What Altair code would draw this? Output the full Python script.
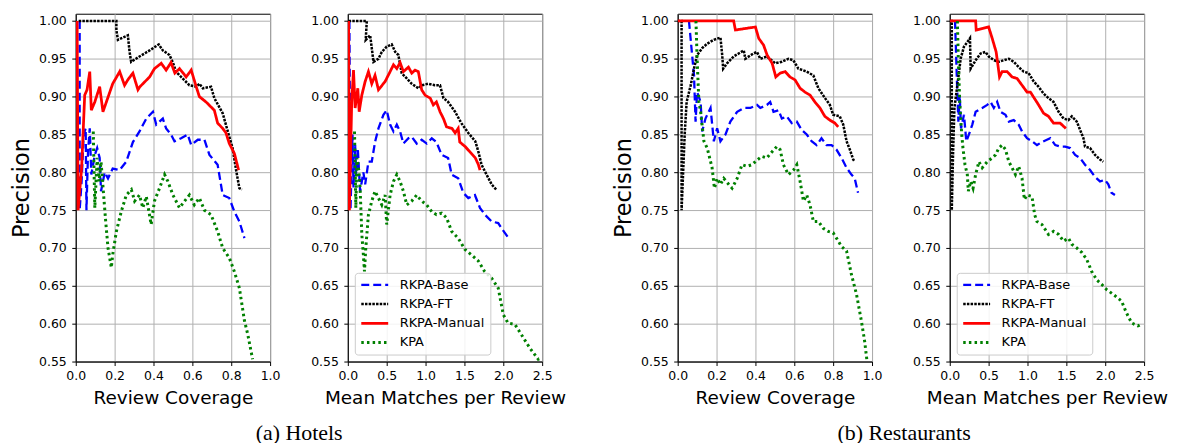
import altair as alt
import pandas as pd

SERIES = ["RKPA-Base", "RKPA-FT", "RKPA-Manual", "KPA"]
COLORS = ["#0000ff", "#000000", "#ff0000", "#008000"]
DASHES = [[8, 4], [2.5, 1.2], [1, 0], [2.5, 3.2]]
WIDTHS = [2.3, 3.0, 1.9, 2.4]
Y_TICKS = [0.55, 0.60, 0.65, 0.70, 0.75, 0.80, 0.85, 0.90, 0.95, 1.00]
COV_TICKS = [0.0, 0.2, 0.4, 0.6, 0.8, 1.0]
MM_TICKS = [0.0, 0.5, 1.0, 1.5, 2.0, 2.5]

# ---------- (a) Hotels, Review Coverage ----------
h_cov_base_x = [0.02, 0.02, 0.03, 0.041, 0.051, 0.055, 0.063, 0.072, 0.08, 0.098, 0.11, 0.123, 0.13, 0.149, 0.166, 0.19, 0.226, 0.26, 0.294, 0.328, 0.363, 0.397, 0.414, 0.448, 0.465, 0.49, 0.508, 0.542, 0.576, 0.594, 0.628, 0.662, 0.688, 0.73, 0.756, 0.79, 0.816, 0.842, 0.868]
h_cov_base_y = [1.0, 0.75, 0.788, 0.85, 0.858, 0.75, 0.827, 0.858, 0.797, 0.823, 0.832, 0.819, 0.775, 0.80, 0.792, 0.805, 0.803, 0.814, 0.84, 0.854, 0.871, 0.88, 0.863, 0.871, 0.858, 0.85, 0.841, 0.845, 0.85, 0.836, 0.843, 0.843, 0.823, 0.81, 0.77, 0.766, 0.748, 0.735, 0.713]
h_cov_ft_x = [0.015, 0.209, 0.209, 0.217, 0.268, 0.277, 0.285, 0.328, 0.38, 0.427, 0.448, 0.482, 0.5, 0.516, 0.542, 0.585, 0.62, 0.636, 0.654, 0.696, 0.713, 0.756, 0.79, 0.807, 0.825, 0.842, 0.855]
h_cov_ft_y = [1.0, 1.0, 0.988, 0.975, 0.981, 0.959, 0.946, 0.953, 0.961, 0.969, 0.961, 0.955, 0.945, 0.933, 0.926, 0.915, 0.913, 0.917, 0.911, 0.913, 0.898, 0.878, 0.847, 0.832, 0.803, 0.779, 0.777]
h_cov_man_x = [0.007, 0.012, 0.03, 0.046, 0.058, 0.072, 0.08, 0.098, 0.123, 0.14, 0.19, 0.226, 0.251, 0.27, 0.294, 0.32, 0.33, 0.38, 0.405, 0.44, 0.465, 0.49, 0.51, 0.534, 0.568, 0.594, 0.62, 0.636, 0.67, 0.713, 0.73, 0.756, 0.773, 0.79, 0.816, 0.838]
h_cov_man_y = [1.0, 0.75, 0.805, 0.902, 0.909, 0.933, 0.882, 0.893, 0.913, 0.88, 0.917, 0.933, 0.915, 0.923, 0.931, 0.909, 0.913, 0.926, 0.937, 0.944, 0.935, 0.945, 0.931, 0.937, 0.926, 0.935, 0.913, 0.90, 0.893, 0.882, 0.865, 0.858, 0.852, 0.838, 0.825, 0.803]
h_cov_kpa_x = [0.09, 0.098, 0.11, 0.12, 0.13, 0.154, 0.166, 0.183, 0.19, 0.209, 0.234, 0.26, 0.286, 0.303, 0.328, 0.345, 0.363, 0.388, 0.405, 0.431, 0.457, 0.474, 0.5, 0.534, 0.56, 0.585, 0.61, 0.636, 0.662, 0.696, 0.73, 0.756, 0.79, 0.816, 0.842, 0.868, 0.885, 0.91]
h_cov_kpa_y = [0.854, 0.753, 0.819, 0.788, 0.814, 0.735, 0.70, 0.674, 0.691, 0.722, 0.748, 0.77, 0.777, 0.762, 0.77, 0.753, 0.768, 0.731, 0.762, 0.779, 0.797, 0.788, 0.77, 0.753, 0.762, 0.77, 0.757, 0.766, 0.75, 0.744, 0.722, 0.70, 0.687, 0.669, 0.647, 0.604, 0.586, 0.553]

# ---------- (a) Hotels, Mean Matches per Review ----------
h_mm_base_x = [0.02, 0.034, 0.06, 0.073, 0.094, 0.107, 0.128, 0.158, 0.2, 0.223, 0.265, 0.308, 0.35, 0.394, 0.458, 0.5, 0.544, 0.587, 0.63, 0.672, 0.715, 0.78, 0.822, 0.886, 0.95, 1.015, 1.08, 1.14, 1.207, 1.29, 1.336, 1.42, 1.485, 1.55, 1.635, 1.70, 1.764, 1.85, 1.935, 1.978, 2.055]
h_mm_base_y = [1.0, 0.75, 0.85, 0.78, 0.836, 0.797, 0.832, 0.775, 0.80, 0.784, 0.814, 0.814, 0.84, 0.858, 0.876, 0.882, 0.863, 0.854, 0.863, 0.854, 0.838, 0.845, 0.847, 0.838, 0.843, 0.838, 0.845, 0.84, 0.823, 0.819, 0.797, 0.792, 0.773, 0.766, 0.77, 0.753, 0.744, 0.735, 0.733, 0.726, 0.715]
h_mm_ft_x = [0.01, 0.244, 0.23, 0.287, 0.308, 0.33, 0.394, 0.437, 0.5, 0.565, 0.61, 0.65, 0.693, 0.758, 0.822, 0.907, 0.95, 1.036, 1.12, 1.186, 1.23, 1.29, 1.38, 1.46, 1.55, 1.64, 1.68, 1.72, 1.785, 1.85, 1.91]
h_mm_ft_y = [1.0, 1.0, 0.975, 0.981, 0.964, 0.946, 0.95, 0.959, 0.966, 0.969, 0.959, 0.955, 0.931, 0.924, 0.917, 0.911, 0.915, 0.917, 0.915, 0.915, 0.898, 0.893, 0.88, 0.865, 0.852, 0.841, 0.827, 0.81, 0.797, 0.784, 0.777]
h_mm_man_x = [0.01, 0.02, 0.05, 0.073, 0.094, 0.128, 0.146, 0.18, 0.223, 0.265, 0.308, 0.35, 0.394, 0.48, 0.544, 0.587, 0.63, 0.672, 0.715, 0.78, 0.822, 0.865, 0.907, 0.95, 0.993, 1.06, 1.1, 1.14, 1.186, 1.23, 1.27, 1.34, 1.38, 1.42, 1.44, 1.51, 1.57, 1.64, 1.68, 1.70]
h_mm_man_y = [1.0, 0.75, 0.893, 0.935, 0.885, 0.911, 0.88, 0.902, 0.92, 0.933, 0.917, 0.928, 0.909, 0.92, 0.933, 0.942, 0.937, 0.945, 0.933, 0.939, 0.931, 0.935, 0.933, 0.909, 0.902, 0.898, 0.889, 0.893, 0.88, 0.871, 0.86, 0.858, 0.852, 0.858, 0.84, 0.834, 0.827, 0.819, 0.81, 0.803]
h_mm_kpa_x = [0.086, 0.103, 0.116, 0.137, 0.158, 0.18, 0.2, 0.214, 0.231, 0.265, 0.308, 0.35, 0.394, 0.437, 0.48, 0.5, 0.544, 0.587, 0.63, 0.672, 0.715, 0.758, 0.822, 0.886, 0.95, 1.015, 1.08, 1.14, 1.207, 1.27, 1.336, 1.42, 1.507, 1.59, 1.678, 1.76, 1.85, 1.935, 2.0, 2.06, 2.15, 2.23, 2.34, 2.45, 2.5]
h_mm_kpa_y = [0.854, 0.753, 0.819, 0.806, 0.779, 0.718, 0.691, 0.669, 0.70, 0.744, 0.762, 0.775, 0.766, 0.757, 0.77, 0.731, 0.77, 0.788, 0.797, 0.788, 0.775, 0.757, 0.762, 0.77, 0.762, 0.757, 0.748, 0.744, 0.746, 0.74, 0.722, 0.713, 0.698, 0.691, 0.683, 0.669, 0.66, 0.647, 0.612, 0.601, 0.599, 0.586, 0.568, 0.553, 0.555]

# ---------- (b) Restaurants, Review Coverage ----------
r_cov_base_x = [0.058, 0.084, 0.092, 0.1, 0.118, 0.126, 0.143, 0.169, 0.186, 0.203, 0.22, 0.246, 0.271, 0.306, 0.34, 0.374, 0.408, 0.425, 0.459, 0.476, 0.493, 0.519, 0.536, 0.561, 0.587, 0.613, 0.638, 0.664, 0.689, 0.715, 0.74, 0.766, 0.792, 0.817, 0.843, 0.869, 0.894, 0.911, 0.928]
r_cov_base_y = [1.0, 0.928, 0.867, 0.906, 0.893, 0.854, 0.871, 0.885, 0.841, 0.858, 0.841, 0.85, 0.867, 0.88, 0.885, 0.885, 0.889, 0.885, 0.889, 0.893, 0.88, 0.882, 0.871, 0.874, 0.865, 0.867, 0.856, 0.85, 0.841, 0.836, 0.845, 0.836, 0.836, 0.83, 0.819, 0.806, 0.797, 0.792, 0.773]
r_cov_ft_x = [0.0, 0.02, 0.02, 0.036, 0.046, 0.067, 0.084, 0.1, 0.126, 0.152, 0.186, 0.22, 0.229, 0.234, 0.254, 0.288, 0.34, 0.348, 0.39, 0.408, 0.425, 0.459, 0.502, 0.536, 0.57, 0.595, 0.621, 0.664, 0.698, 0.724, 0.758, 0.783, 0.8, 0.834, 0.852, 0.869, 0.886, 0.903, 0.911]
r_cov_ft_y = [1.0, 1.0, 0.75, 0.85, 0.893, 0.915, 0.937, 0.955, 0.964, 0.97, 0.975, 0.978, 0.955, 0.937, 0.944, 0.953, 0.961, 0.95, 0.957, 0.959, 0.95, 0.953, 0.944, 0.946, 0.95, 0.948, 0.937, 0.933, 0.928, 0.911, 0.898, 0.889, 0.876, 0.874, 0.863, 0.841, 0.83, 0.817, 0.814]
r_cov_man_x = [0.0, 0.288, 0.297, 0.40, 0.417, 0.442, 0.46, 0.486, 0.505, 0.527, 0.553, 0.578, 0.604, 0.63, 0.655, 0.681, 0.706, 0.732, 0.757, 0.783, 0.809, 0.826]
r_cov_man_y = [1.0, 1.0, 0.988, 0.992, 0.977, 0.968, 0.955, 0.944, 0.926, 0.931, 0.933, 0.926, 0.922, 0.911, 0.906, 0.902, 0.893, 0.885, 0.874, 0.869, 0.865, 0.86]
r_cov_kpa_x = [0.094, 0.1, 0.109, 0.118, 0.135, 0.152, 0.177, 0.189, 0.203, 0.22, 0.237, 0.263, 0.28, 0.306, 0.331, 0.357, 0.382, 0.408, 0.433, 0.459, 0.485, 0.51, 0.527, 0.544, 0.57, 0.596, 0.613, 0.63, 0.647, 0.664, 0.681, 0.698, 0.724, 0.749, 0.775, 0.8, 0.817, 0.843, 0.869, 0.894, 0.92, 0.945, 0.962, 0.974]
r_cov_kpa_y = [1.0, 0.95, 0.893, 0.88, 0.841, 0.832, 0.806, 0.779, 0.792, 0.784, 0.792, 0.784, 0.779, 0.792, 0.81, 0.808, 0.81, 0.816, 0.821, 0.819, 0.827, 0.834, 0.83, 0.81, 0.797, 0.803, 0.81, 0.788, 0.762, 0.77, 0.757, 0.735, 0.735, 0.726, 0.722, 0.72, 0.713, 0.702, 0.696, 0.665, 0.639, 0.604, 0.577, 0.551]

# ---------- (b) Restaurants, Mean Matches per Review ----------
r_mm_base_x = [0.068, 0.094, 0.111, 0.128, 0.145, 0.183, 0.213, 0.247, 0.29, 0.333, 0.418, 0.482, 0.525, 0.567, 0.61, 0.653, 0.717, 0.76, 0.823, 0.887, 0.93, 0.994, 1.058, 1.122, 1.186, 1.25, 1.293, 1.357, 1.42, 1.485, 1.549, 1.613, 1.677, 1.74, 1.805, 1.869, 1.933, 1.997, 2.04, 2.08, 2.125]
r_mm_base_y = [1.0, 0.915, 0.867, 0.902, 0.858, 0.876, 0.841, 0.85, 0.863, 0.88, 0.885, 0.889, 0.893, 0.885, 0.893, 0.88, 0.876, 0.867, 0.869, 0.863, 0.854, 0.845, 0.841, 0.836, 0.84, 0.843, 0.845, 0.836, 0.834, 0.834, 0.832, 0.823, 0.819, 0.81, 0.803, 0.794, 0.788, 0.79, 0.784, 0.773, 0.77]
r_mm_ft_x = [0.0, 0.026, 0.026, 0.043, 0.06, 0.098, 0.14, 0.183, 0.247, 0.26, 0.269, 0.333, 0.397, 0.46, 0.503, 0.567, 0.631, 0.695, 0.76, 0.823, 0.887, 0.951, 1.015, 1.08, 1.143, 1.207, 1.27, 1.335, 1.4, 1.463, 1.527, 1.57, 1.634, 1.677, 1.72, 1.74, 1.805, 1.869, 1.933, 1.975]
r_mm_ft_y = [1.0, 1.0, 0.75, 0.827, 0.885, 0.915, 0.95, 0.966, 0.975, 0.977, 0.937, 0.948, 0.957, 0.959, 0.953, 0.948, 0.946, 0.948, 0.95, 0.946, 0.939, 0.933, 0.931, 0.92, 0.913, 0.904, 0.898, 0.893, 0.88, 0.871, 0.869, 0.874, 0.867, 0.856, 0.845, 0.834, 0.832, 0.823, 0.817, 0.814]
r_mm_man_x = [0.0, 0.333, 0.34, 0.5, 0.546, 0.597, 0.64, 0.674, 0.738, 0.802, 0.866, 0.93, 0.994, 1.037, 1.1, 1.143, 1.207, 1.27, 1.335, 1.42, 1.493]
r_mm_man_y = [1.0, 1.0, 0.988, 0.992, 0.977, 0.959, 0.926, 0.933, 0.933, 0.926, 0.924, 0.915, 0.906, 0.906, 0.896, 0.889, 0.878, 0.874, 0.865, 0.865, 0.858]
r_mm_kpa_x = [0.098, 0.111, 0.128, 0.154, 0.17, 0.196, 0.226, 0.239, 0.269, 0.3, 0.333, 0.375, 0.418, 0.482, 0.546, 0.589, 0.631, 0.674, 0.717, 0.76, 0.802, 0.845, 0.887, 0.93, 0.96, 0.994, 1.058, 1.092, 1.122, 1.186, 1.27, 1.335, 1.4, 1.463, 1.527, 1.57, 1.634, 1.7, 1.762, 1.826, 1.89, 1.954, 2.018, 2.1, 2.21, 2.27, 2.34, 2.42, 2.46]
r_mm_kpa_y = [1.0, 0.946, 0.893, 0.85, 0.832, 0.81, 0.797, 0.775, 0.788, 0.779, 0.797, 0.814, 0.806, 0.814, 0.819, 0.823, 0.832, 0.836, 0.83, 0.814, 0.806, 0.797, 0.808, 0.792, 0.764, 0.77, 0.768, 0.744, 0.735, 0.731, 0.718, 0.722, 0.718, 0.709, 0.713, 0.705, 0.70, 0.694, 0.685, 0.669, 0.658, 0.652, 0.645, 0.639, 0.63, 0.615, 0.601, 0.597, 0.599]


def build(pairs):
    rows = []
    for name, (xs, ys) in zip(SERIES, pairs):
        for i, (xv, yv) in enumerate(zip(xs, ys)):
            rows.append({"series": name, "x": xv, "y": yv, "i": i})
    return pd.DataFrame(rows)


def panel(df, xmax, xticks, xtitle, ytitle, show_legend):
    if show_legend:
        leg = alt.Legend(
            orient="bottom-left", offset=7, title=None,
            fillColor="rgba(255,255,255,0.85)", strokeColor="#cccccc", cornerRadius=3,
            padding=5, labelFont="DejaVu Sans", labelFontSize=13, labelColor="black",
            symbolType="stroke", symbolSize=729, symbolStrokeWidth=2.3,
            clipHeight=14, rowPadding=5.3, labelOffset=10,
        )
    else:
        leg = None
    return alt.Chart(df).mark_line(clip=True).encode(
        x=alt.X("x:Q", scale=alt.Scale(domain=[0, xmax], nice=False, zero=False),
                axis=alt.Axis(values=xticks, format=".1f", title=xtitle)),
        y=alt.Y("y:Q", scale=alt.Scale(domain=[0.55, 1.0095], nice=False, zero=False),
                axis=alt.Axis(values=Y_TICKS, format=".2f", title=ytitle)),
        color=alt.Color("series:N", scale=alt.Scale(domain=SERIES, range=COLORS), legend=leg),
        strokeDash=alt.StrokeDash("series:N", scale=alt.Scale(domain=SERIES, range=DASHES), legend=leg),
        strokeWidth=alt.StrokeWidth("series:N", scale=alt.Scale(domain=SERIES, range=WIDTHS), legend=None),
        order="i:Q",
    ).properties(width=195, height=349)


p1 = panel(build([(h_cov_base_x, h_cov_base_y), (h_cov_ft_x, h_cov_ft_y), (h_cov_man_x, h_cov_man_y), (h_cov_kpa_x, h_cov_kpa_y)]),
           1.0, COV_TICKS, "Review Coverage", "Precision", False)
p2 = panel(build([(h_mm_base_x, h_mm_base_y), (h_mm_ft_x, h_mm_ft_y), (h_mm_man_x, h_mm_man_y), (h_mm_kpa_x, h_mm_kpa_y)]),
           2.5, MM_TICKS, "Mean Matches per Review", None, True)
p3 = panel(build([(r_cov_base_x, r_cov_base_y), (r_cov_ft_x, r_cov_ft_y), (r_cov_man_x, r_cov_man_y), (r_cov_kpa_x, r_cov_kpa_y)]),
           1.0, COV_TICKS, "Review Coverage", "Precision", False)
p4 = panel(build([(r_mm_base_x, r_mm_base_y), (r_mm_ft_x, r_mm_ft_y), (r_mm_man_x, r_mm_man_y), (r_mm_kpa_x, r_mm_kpa_y)]),
           2.5, MM_TICKS, "Mean Matches per Review", None, True)


def caption(text, dx):
    return alt.TitleParams(text=text, orient="bottom", anchor="middle", font="Liberation Serif",
                           fontSize=22, fontWeight="normal", color="black", offset=15, dx=dx)


indep = dict(color="independent", strokeDash="independent", strokeWidth="independent")

left = alt.hconcat(p1, p2, spacing=78, bounds="flush", title=caption("(a) Hotels", 11)) \
    .resolve_scale(**indep).resolve_legend(**indep)
right = alt.hconcat(p3, p4, spacing=78, bounds="flush", title=caption("(b) Restaurants", 14)) \
    .resolve_scale(**indep).resolve_legend(**indep)

chart = alt.hconcat(left, right, spacing=45).resolve_scale(**indep).resolve_legend(**indep) \
    .properties(padding={"left": 2, "top": 4, "right": 0, "bottom": 0}, background="white") \
    .configure_view(stroke="black", strokeWidth=1) \
    .configure_axis(grid=True, gridColor="#b0b0b0", gridWidth=1, domainColor="black", domainWidth=1,
                    tickColor="black", tickSize=4, tickWidth=1, labelFont="DejaVu Sans", labelFontSize=12.5,
                    labelColor="black", labelFlush=False, labelOverlap=False, labelBound=False,
                    titleFont="DejaVu Sans", titleFontWeight="normal", titleColor="black") \
    .configure_axisX(titleFontSize=18.5, labelPadding=4.5, titlePadding=6.5) \
    .configure_axisY(titleFontSize=22.5, labelPadding=5.5, titlePadding=5)

chart.save("out.html", embed_options={"renderer": "svg", "actions": False})
